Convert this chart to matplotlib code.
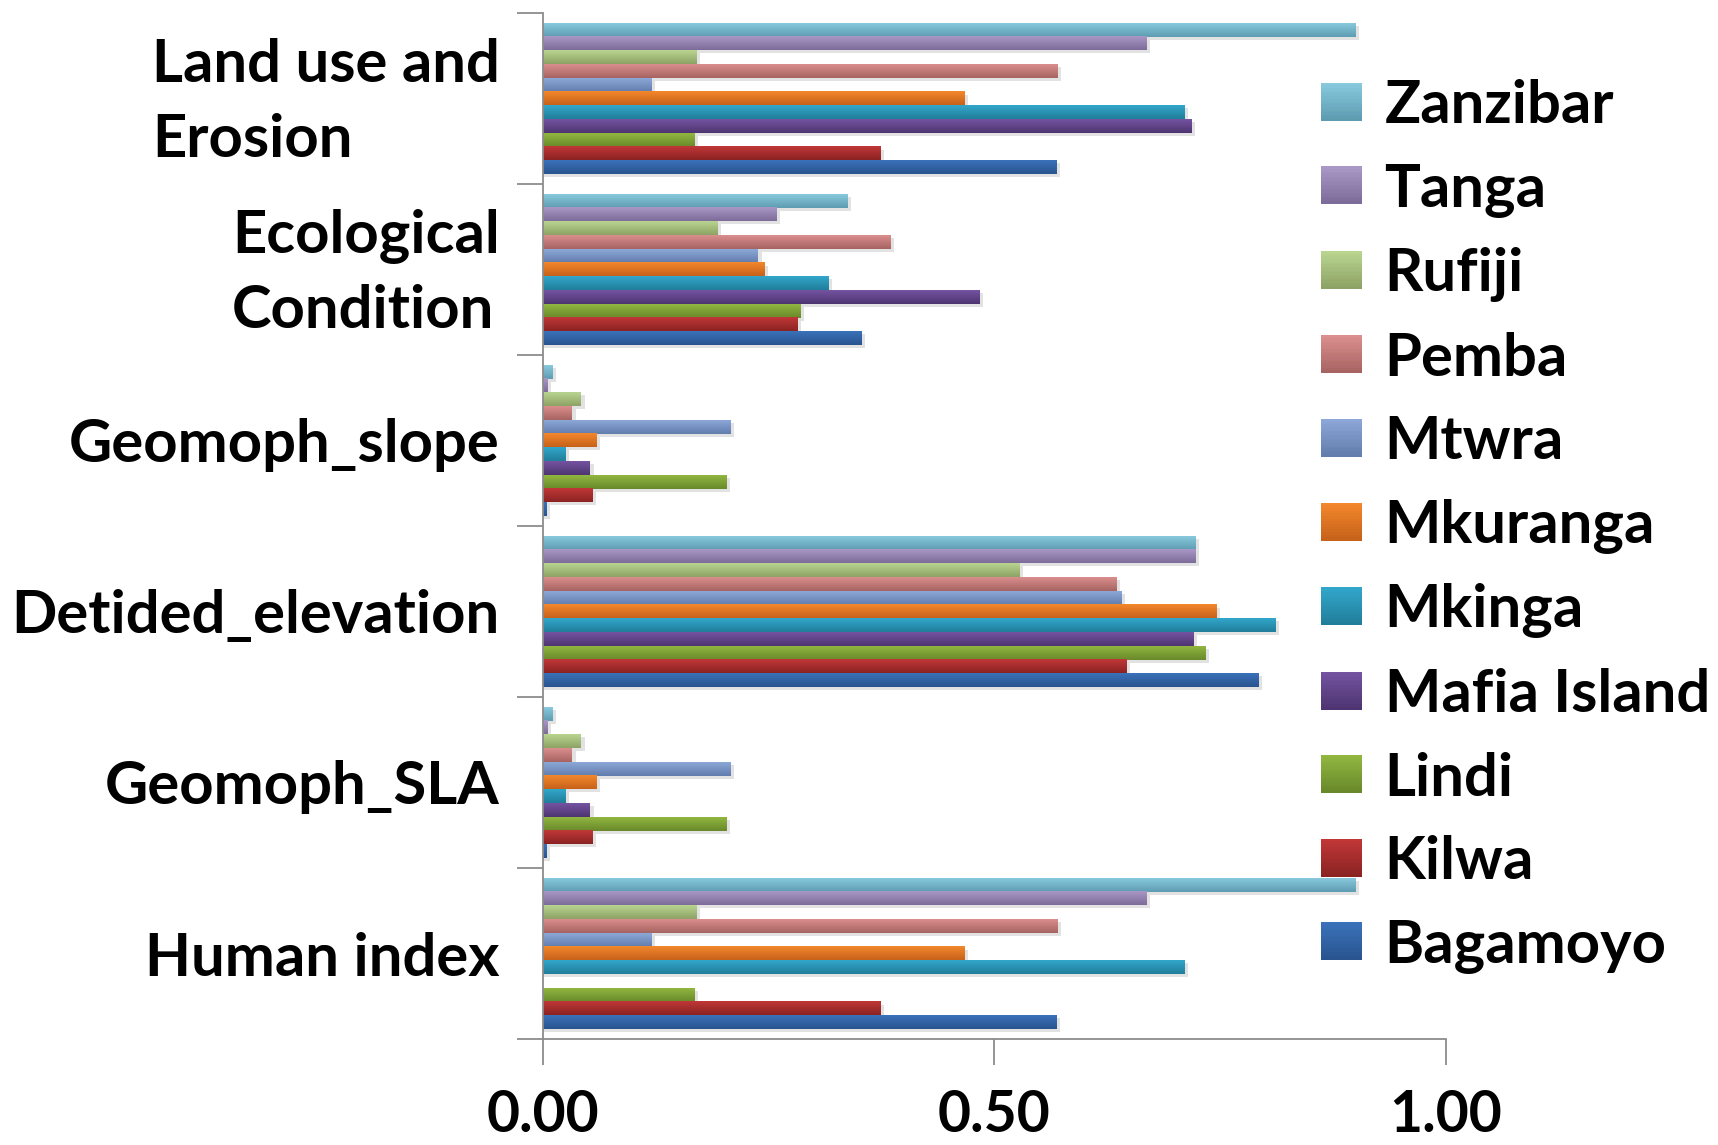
import numpy as np
import matplotlib
matplotlib.use("Agg")
import matplotlib.pyplot as plt
import matplotlib.transforms as mtransforms
from matplotlib.patches import Rectangle
from matplotlib.legend_handler import HandlerBase
from matplotlib.colors import to_rgb

# Indicator categories, listed top to bottom
categories = ["Land use and\nErosion", "Ecological\nCondition", "Geomoph_slope",
              "Detided_elevation", "Geomoph_SLA", "Human index"]

# Districts, listed as in the legend (top to bottom)
districts = ["Zanzibar", "Tanga", "Rufiji", "Pemba", "Mtwra", "Mkuranga",
             "Mkinga", "Mafia Island", "Lindi", "Kilwa", "Bagamoyo"]

zanzibar = [0.900, 0.337, 0.010, 0.723, 0.010, 0.900]
tanga = [0.668, 0.259, 0.005, 0.723, 0.005, 0.668]
rufiji = [0.170, 0.193, 0.042, 0.528, 0.042, 0.170]
pemba = [0.570, 0.385, 0.032, 0.635, 0.032, 0.570]
mtwra = [0.120, 0.238, 0.208, 0.641, 0.208, 0.120]
mkuranga = [0.467, 0.245, 0.059, 0.746, 0.059, 0.467]
mkinga = [0.710, 0.316, 0.025, 0.811, 0.025, 0.710]
mafia_island = [0.718, 0.483, 0.052, 0.720, 0.052, 0.000]
lindi = [0.168, 0.285, 0.203, 0.734, 0.203, 0.168]
kilwa = [0.374, 0.282, 0.055, 0.646, 0.055, 0.374]
bagamoyo = [0.569, 0.353, 0.004, 0.792, 0.004, 0.569]

series = [zanzibar, tanga, rufiji, pemba, mtwra, mkuranga,
          mkinga, mafia_island, lindi, kilwa, bagamoyo]

x_ticks = [0.0, 0.5, 1.0]
x_tick_labels = ["0.00", "0.50", "1.00"]

# Gradient colours (top, bottom) per district
top_colors = ["#88c9dd", "#a997c5", "#b9d48f", "#da8e8d", "#8ca7d7", "#f3872c",
              "#32a6ca", "#7453a1", "#90b640", "#c13737", "#3a71b9"]
bottom_colors = ["#5e9cb2", "#7d6b99", "#8da366", "#a76462", "#627ead", "#c7621a",
                 "#217e9b", "#4e3571", "#69892a", "#8b2323", "#29548f"]

FONT = ["Lato", "DejaVu Sans"]
FS = 43

fig = plt.figure(figsize=(17.18, 11.45), dpi=100)
W, H = 1718, 1145
ax_left, ax_right, ax_top, ax_bottom = 543, 1446, 13, 1039
ax = fig.add_axes([ax_left / W, 1 - ax_bottom / H,
                   (ax_right - ax_left) / W, (ax_bottom - ax_top) / H])

n_cat = len(categories)
n_ser = len(series)
bar_h = 0.0804


def gradient(c_top, c_bot, n=32):
    t = np.linspace(0, 1, n)[:, None]
    a = np.array(to_rgb(c_top))[None, :]
    b = np.array(to_rgb(c_bot))[None, :]
    return (a * (1 - t) + b * t)[:, None, :]


for i in range(n_cat):
    y_c = n_cat - 1 - i  # first category drawn at the top
    for j, vals in enumerate(series):
        v = vals[i]
        if v <= 0:
            continue
        # bottom-most series is the last listed (Bagamoyo)
        k = n_ser - 1 - j
        y0 = y_c + (k - n_ser / 2) * bar_h
        # soft drop shadow
        ax.add_patch(Rectangle((0.0, y0 - 0.018), v + 0.004, bar_h,
                               facecolor="#9a9a9a", alpha=0.28, linewidth=0, zorder=1))
        ax.imshow(gradient(top_colors[j], bottom_colors[j]),
                  extent=(0, v, y0, y0 + bar_h), aspect="auto",
                  interpolation="bilinear", origin="upper", zorder=2)

ax.set_xlim(0, 1.0)
ax.set_ylim(-0.5, n_cat - 0.5)
ax.set_aspect("auto")

# Axes styling
for s in ["top", "right"]:
    ax.spines[s].set_visible(False)
for s in ["left", "bottom"]:
    ax.spines[s].set_color("#8c8c8c")
    ax.spines[s].set_linewidth(1.3)

ax.set_xticks(x_ticks)
ax.set_xticklabels(x_tick_labels)
ax.tick_params(axis="x", direction="out", length=18.7, width=1.3, color="#8c8c8c",
               pad=17, labelsize=41)

ax.set_yticks(np.arange(n_cat))
ax.set_yticklabels(categories[::-1])
ax.set_yticks(np.arange(-0.5, n_cat, 1.0), minor=True)
ax.tick_params(axis="y", which="major", length=0, pad=31, labelsize=FS)
ax.tick_params(axis="y", which="minor", direction="out", length=18.7, width=1.3,
               color="#8c8c8c")
lift = mtransforms.ScaledTranslation(0, 11 / 100, fig.dpi_scale_trans)
for lab in ax.get_yticklabels():
    lab.set_multialignment("left")
    lab.set_linespacing(1.46)
    lab.set_fontfamily(FONT)
    lab.set_fontweight("bold")
    if "\n" in lab.get_text():
        lab.set_transform(lab.get_transform() + lift)
for lab in ax.get_xticklabels():
    lab.set_fontfamily(FONT)
    lab.set_fontweight("bold")


class GradientSquare(HandlerBase):
    def __init__(self, c_top, c_bot):
        super().__init__()
        self.c_top = c_top
        self.c_bot = c_bot

    def create_artists(self, legend, orig_handle, xdescent, ydescent, width,
                       height, fontsize, trans):
        arts = []
        n = 14
        cols = gradient(self.c_top, self.c_bot, n)[:, 0, :]
        for m in range(n):
            yy = -ydescent + height * (1 - (m + 1) / n)
            arts.append(Rectangle((-xdescent, yy), width, height / n + 0.3,
                                  facecolor=cols[m], edgecolor="none",
                                  transform=trans))
        return arts


handles = [Rectangle((0, 0), 1, 1, facecolor=top_colors[j]) for j in range(n_ser)]
handler_map = {h: GradientSquare(top_colors[j], bottom_colors[j])
               for j, h in enumerate(handles)}
leg = fig.legend(handles, districts, handler_map=handler_map,
                 loc="upper left", bbox_to_anchor=(1321 / W, 1 - 79 / H),
                 frameon=False, prop={"family": FONT, "weight": "bold", "size": FS},
                 handlelength=0.68, handleheight=0.59, handletextpad=0.385,
                 labelspacing=0.495, borderpad=0, borderaxespad=0)

fig.savefig("out.png", dpi=100, facecolor="white")
